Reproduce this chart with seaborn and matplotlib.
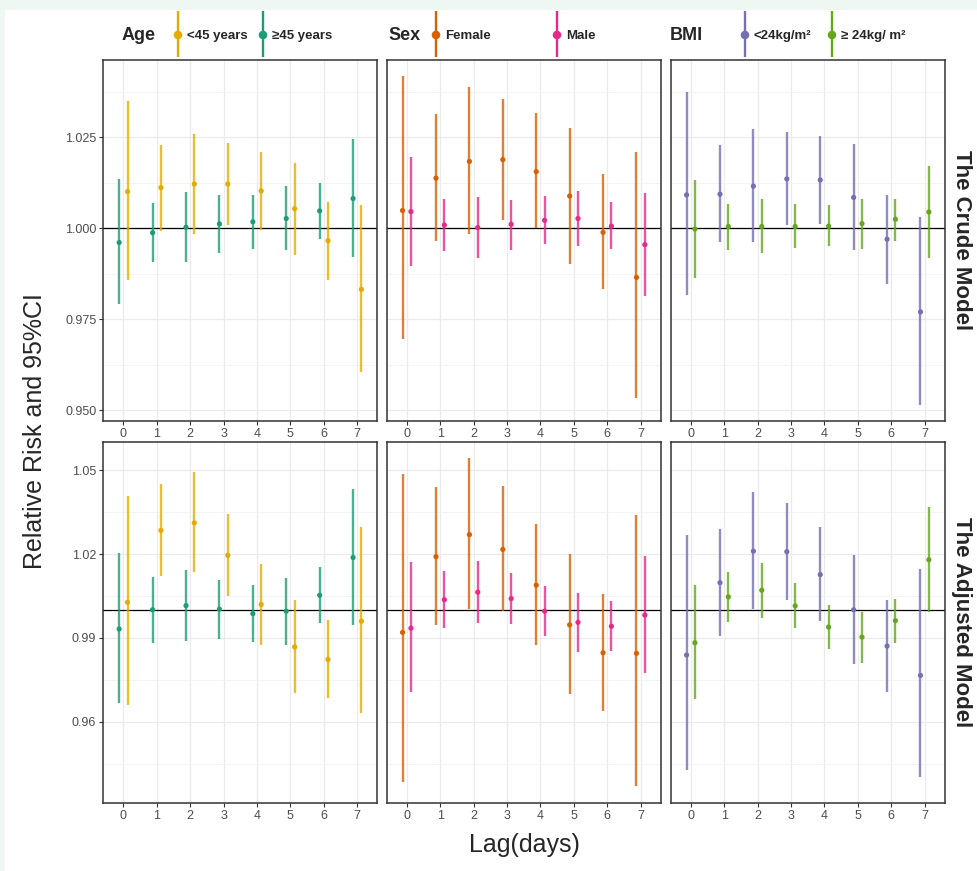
import numpy as np
import pandas as pd
import seaborn as sns
import matplotlib.pyplot as plt
from matplotlib.patches import Rectangle
from matplotlib.ticker import MultipleLocator, FormatStrFormatter

lags = [0, 1, 2, 3, 4, 5, 6, 7]

# The Crude Model
crude_age_young_rr = [1.0101, 1.0112, 1.0122, 1.0122, 1.0103, 1.0054, 0.9966, 0.9832]
crude_age_young_lo = [0.9858, 0.9993, 0.9985, 1.0010, 0.9995, 0.9927, 0.9858, 0.9606]
crude_age_young_hi = [1.0350, 1.0229, 1.0259, 1.0235, 1.0210, 1.0180, 1.0073, 1.0063]
crude_age_old_rr = [0.9961, 0.9988, 1.0003, 1.0012, 1.0018, 1.0027, 1.0048, 1.0082]
crude_age_old_lo = [0.9791, 0.9908, 0.9908, 0.9931, 0.9942, 0.9939, 0.9972, 0.9921]
crude_age_old_hi = [1.0135, 1.0071, 1.0099, 1.0091, 1.0092, 1.0116, 1.0124, 1.0246]
crude_female_rr = [1.0049, 1.0138, 1.0184, 1.0189, 1.0156, 1.0089, 0.9989, 0.9865]
crude_female_lo = [0.9695, 0.9965, 0.9984, 1.0023, 1.0000, 0.9902, 0.9832, 0.9533]
crude_female_hi = [1.0418, 1.0315, 1.0388, 1.0356, 1.0316, 1.0277, 1.0150, 1.0210]
crude_male_rr = [1.0046, 1.0009, 1.0002, 1.0011, 1.0022, 1.0027, 1.0006, 0.9955]
crude_male_lo = [0.9897, 0.9938, 0.9918, 0.9940, 0.9957, 0.9950, 0.9942, 0.9815]
crude_male_hi = [1.0197, 1.0080, 1.0086, 1.0079, 1.0088, 1.0103, 1.0073, 1.0096]
crude_bmi_low_rr = [1.0092, 1.0094, 1.0116, 1.0136, 1.0133, 1.0085, 0.9970, 0.9770]
crude_bmi_low_lo = [0.9817, 0.9961, 0.9961, 1.0008, 1.0012, 0.9940, 0.9847, 0.9515]
crude_bmi_low_hi = [1.0376, 1.0229, 1.0273, 1.0266, 1.0255, 1.0231, 1.0092, 1.0030]
crude_bmi_high_rr = [0.9998, 1.0005, 1.0005, 1.0005, 1.0006, 1.0013, 1.0025, 1.0045]
crude_bmi_high_lo = [0.9864, 0.9940, 0.9931, 0.9945, 0.9950, 0.9942, 0.9965, 0.9919]
crude_bmi_high_hi = [1.0132, 1.0067, 1.0080, 1.0067, 1.0065, 1.0082, 1.0082, 1.0171]

# The Adjusted Model
adj_age_young_rr = [1.0028, 1.0285, 1.0312, 1.0196, 1.0020, 0.9868, 0.9823, 0.9960]
adj_age_young_lo = [0.9661, 1.0121, 1.0135, 1.0050, 0.9876, 0.9704, 0.9685, 0.9632]
adj_age_young_hi = [1.0410, 1.0452, 1.0493, 1.0344, 1.0165, 1.0037, 0.9963, 1.0299]
adj_age_old_rr = [0.9932, 1.0001, 1.0016, 1.0003, 0.9987, 0.9996, 1.0053, 1.0188]
adj_age_old_lo = [0.9668, 0.9883, 0.9890, 0.9896, 0.9884, 0.9875, 0.9952, 0.9946]
adj_age_old_hi = [1.0203, 1.0120, 1.0143, 1.0108, 1.0090, 1.0115, 1.0155, 1.0435]
adj_female_rr = [0.9920, 1.0191, 1.0270, 1.0217, 1.0089, 0.9947, 0.9847, 0.9845]
adj_female_lo = [0.9385, 0.9945, 1.0003, 0.9997, 0.9876, 0.9700, 0.9639, 0.9369]
adj_female_hi = [1.0488, 1.0441, 1.0544, 1.0443, 1.0307, 1.0199, 1.0059, 1.0342]
adj_male_rr = [0.9935, 1.0037, 1.0064, 1.0041, 0.9996, 0.9956, 0.9942, 0.9982]
adj_male_lo = [0.9706, 0.9934, 0.9954, 0.9950, 0.9908, 0.9851, 0.9855, 0.9775]
adj_male_hi = [1.0172, 1.0139, 1.0176, 1.0134, 1.0087, 1.0062, 1.0031, 1.0193]
adj_bmi_low_rr = [0.9839, 1.0098, 1.0211, 1.0209, 1.0127, 1.0001, 0.9871, 0.9766]
adj_bmi_low_lo = [0.9427, 0.9908, 1.0002, 1.0035, 0.9960, 0.9808, 0.9708, 0.9401]
adj_bmi_low_hi = [1.0269, 1.0291, 1.0423, 1.0385, 1.0296, 1.0198, 1.0035, 1.0146]
adj_bmi_high_rr = [0.9883, 1.0047, 1.0071, 1.0015, 0.9939, 0.9903, 0.9962, 1.0180]
adj_bmi_high_lo = [0.9682, 0.9956, 0.9973, 0.9934, 0.9860, 0.9809, 0.9883, 0.9994]
adj_bmi_high_hi = [1.0091, 1.0136, 1.0167, 1.0096, 1.0017, 0.9994, 1.0039, 1.0369]

models = ["The Crude Model", "The Adjusted Model"]
variables = ["Age", "Sex", "BMI"]
# groups listed in legend order; dodge order is second list
group_labels = {
    "Age": ["<45 years", "≥45 years"],
    "Sex": ["Female", "Male"],
    "BMI": ["<24kg/m²", "≥ 24kg/ m²"],
}
dodge_order = {
    "Age": ["≥45 years", "<45 years"],
    "Sex": ["Female", "Male"],
    "BMI": ["<24kg/m²", "≥ 24kg/ m²"],
}

series = {
    ("The Crude Model", "Age", "<45 years"): (crude_age_young_rr, crude_age_young_lo, crude_age_young_hi),
    ("The Crude Model", "Age", "≥45 years"): (crude_age_old_rr, crude_age_old_lo, crude_age_old_hi),
    ("The Crude Model", "Sex", "Female"): (crude_female_rr, crude_female_lo, crude_female_hi),
    ("The Crude Model", "Sex", "Male"): (crude_male_rr, crude_male_lo, crude_male_hi),
    ("The Crude Model", "BMI", "<24kg/m²"): (crude_bmi_low_rr, crude_bmi_low_lo, crude_bmi_low_hi),
    ("The Crude Model", "BMI", "≥ 24kg/ m²"): (crude_bmi_high_rr, crude_bmi_high_lo, crude_bmi_high_hi),
    ("The Adjusted Model", "Age", "<45 years"): (adj_age_young_rr, adj_age_young_lo, adj_age_young_hi),
    ("The Adjusted Model", "Age", "≥45 years"): (adj_age_old_rr, adj_age_old_lo, adj_age_old_hi),
    ("The Adjusted Model", "Sex", "Female"): (adj_female_rr, adj_female_lo, adj_female_hi),
    ("The Adjusted Model", "Sex", "Male"): (adj_male_rr, adj_male_lo, adj_male_hi),
    ("The Adjusted Model", "BMI", "<24kg/m²"): (adj_bmi_low_rr, adj_bmi_low_lo, adj_bmi_low_hi),
    ("The Adjusted Model", "BMI", "≥ 24kg/ m²"): (adj_bmi_high_rr, adj_bmi_high_lo, adj_bmi_high_hi),
}

rows = []
for (model, var, grp), (rr, lo, hi) in series.items():
    for lag, r, l, h in zip(lags, rr, lo, hi):
        rows.append({"model": model, "var": var, "group": grp, "lag": lag, "rr": r, "lo": l, "hi": h})
df = pd.DataFrame(rows)

pal = sns.color_palette("Dark2")
colors = {
    "<45 years": pal[5], "≥45 years": pal[0],
    "Female": pal[1], "Male": pal[3],
    "<24kg/m²": pal[2], "≥ 24kg/ m²": pal[4],
}

sns.set_theme(style="white")
plt.rcParams["font.family"] = ["Liberation Sans", "DejaVu Sans"]

W, H = 977, 871
fig = plt.figure(figsize=(W / 100, H / 100), dpi=100)
fig.patch.set_facecolor("#eef7f2")
fig.patches.append(Rectangle((5 / W, 0), 1, (H - 10) / H, transform=fig.transFigure,
                             facecolor="white", edgecolor="none", zorder=-10))

col_left = [103.3, 386.7, 670.7]
row_top = [60, 441.7]
panel_w, panel_h = 274, 361
dodge = 0.125

for i, model in enumerate(models):
    sub_row = df[df["model"] == model]
    lo_all, hi_all = sub_row["lo"].min(), sub_row["hi"].max()
    pad = (hi_all - lo_all) * 0.05
    for j, var in enumerate(variables):
        ax = fig.add_axes([col_left[j] / W, 1 - (row_top[i] + panel_h) / H, panel_w / W, panel_h / H])
        sub = sub_row[sub_row["var"] == var]
        for side, grp in zip([-1, 1], dodge_order[var]):
            d = sub[sub["group"] == grp]
            x = d["lag"] + side * dodge
            ax.vlines(x, d["lo"], d["hi"], color=colors[grp], lw=1.7, alpha=0.8, zorder=3)
            sns.scatterplot(x=x, y=d["rr"], color=colors[grp], s=14, edgecolor="none",
                            legend=False, ax=ax, zorder=4)
        ax.axhline(1.0, color="black", lw=0.9, zorder=2)

        ax.set_xlim(-0.6, 7.6)
        ax.set_ylim(lo_all - pad, hi_all + pad)
        ax.set_xticks(lags)
        if i == 0:
            ax.yaxis.set_major_locator(MultipleLocator(0.025))
            ax.yaxis.set_minor_locator(MultipleLocator(0.0125))
            ax.yaxis.set_major_formatter(FormatStrFormatter("%.3f"))
        else:
            ax.yaxis.set_major_locator(MultipleLocator(0.03))
            ax.yaxis.set_minor_locator(MultipleLocator(0.015))
            ax.yaxis.set_major_formatter(FormatStrFormatter("%.2f"))
        ax.grid(True, which="major", color="#ebebeb", lw=0.9)
        ax.grid(True, which="minor", axis="y", color="#f2f2f2", lw=0.6)
        ax.set_axisbelow(True)
        ax.tick_params(axis="both", which="major", length=3, width=0.8, color="#333333",
                       labelsize=9, labelcolor="#4d4d4d", pad=2, bottom=True, left=True)
        ax.tick_params(axis="y", which="minor", length=0)
        if j > 0:
            ax.tick_params(axis="y", labelleft=False, left=False)
        for s in ax.spines.values():
            s.set_color("#333333")
            s.set_linewidth(1.1)
        ax.set_xlabel("")
        ax.set_ylabel("")
        if j == 2:
            ax.text(1.06, 0.5, model, transform=ax.transAxes, rotation=-90, ha="center",
                    va="center", fontsize=16, fontweight="bold")

fig.text(35 / W, 1 - 431 / H, "Relative Risk and 95%CI", rotation=90, ha="center",
         va="center", fontsize=18)
fig.text(524 / W, 1 - 845 / H, "Lag(days)", ha="center", va="center", fontsize=18)

# legend strip along the top
leg = fig.add_axes([0, 0, 1, 1], zorder=10)
leg.set_xlim(0, W)
leg.set_ylim(H, 0)
leg.axis("off")
title_x = {"Age": 122, "Sex": 388, "BMI": 670}
key_x = {"Age": [178, 263], "Sex": [436, 557], "BMI": [745, 832]}
for var in variables:
    leg.text(title_x[var], 35, var, ha="left", va="center", fontsize=13, fontweight="bold")
    for kx, grp in zip(key_x[var], group_labels[var]):
        leg.vlines(kx, 11, 57, color=colors[grp], lw=1.7)
        leg.scatter([kx], [35], color=colors[grp], s=38, edgecolor="none")
        leg.text(kx + 9, 36, grp, ha="left", va="center", fontsize=9.5, fontweight="bold")

fig.savefig("out.png", dpi=100, facecolor=fig.get_facecolor())
